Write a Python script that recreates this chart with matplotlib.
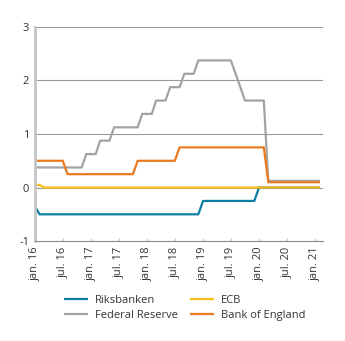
import numpy as np
import pandas as pd
import matplotlib
matplotlib.use("Agg")
import matplotlib.pyplot as plt
import matplotlib.dates as mdates

# monthly policy rates, jan 2016 - feb 2021
months = pd.date_range("2016-01-01", "2021-02-01", freq="MS")

riksbanken = ([-0.35] + [-0.5] * 35          # jan 16 - dec 18
              + [-0.25] * 12                 # jan 19 - dec 19
              + [0.0] * 14)                  # jan 20 - feb 21
fed = ([0.375] * 11 + [0.625] * 3 + [0.875] * 3 + [1.125] * 6
       + [1.375] * 3 + [1.625] * 3 + [1.875] * 3 + [2.125] * 3
       + [2.375] * 8 + [2.125, 1.875] + [1.625] * 5 + [0.125] * 12)
ecb = [0.05, 0.05] + [0.0] * 60
boe = ([0.5] * 7 + [0.25] * 15 + [0.5] * 9 + [0.75] * 19 + [0.1] * 12)

series = ["Riksbanken", "Federal Reserve", "ECB", "Bank of England"]
colors = ["#0e7ea6", "#a3a3a3", "#fbbd1c", "#ec7a1e"]

tick_dates = pd.date_range("2016-01-01", "2021-01-01", freq="6MS")
tick_labels = [("jan. " if d.month == 1 else "jul. ") + d.strftime("%y") for d in tick_dates]

plt.rcParams["font.family"] = ["Open Sans", "DejaVu Sans"]

fig = plt.figure(figsize=(3.45, 3.41), dpi=100)
ax = fig.add_axes([0.101, 0.293, 0.835, 0.628])

for vals, name, c in zip([riksbanken, fed, ecb, boe], series, colors):
    ax.plot(months, vals, color=c, lw=1.6, label=name, solid_capstyle="butt")

ax.set_ylim(-1, 3)
ax.set_yticks([-1, 0, 1, 2, 3])
ax.set_yticklabels(["-1", "0", "1", "2", "3"])
ax.set_xlim(pd.Timestamp("2016-01-01"), pd.Timestamp("2021-02-20"))
ax.set_xticks(tick_dates)
ax.set_xticklabels(tick_labels, rotation=90)

for y in [0, 1, 2, 3]:
    ax.axhline(y, color="#9a9a9a", lw=0.8, zorder=0)

for s in ["top", "right"]:
    ax.spines[s].set_visible(False)
ax.spines["left"].set_color("#c4c4c4")
ax.spines["left"].set_linewidth(2)
ax.spines["bottom"].set_color("#8a8a8a")
ax.spines["bottom"].set_linewidth(0.8)

ax.tick_params(axis="y", length=0, pad=4, labelsize=8, colors="#333333")
ax.tick_params(axis="x", direction="in", length=2, width=0.8, color="#c4c4c4",
               pad=4, labelsize=8, labelcolor="#333333")

ax.legend(loc="upper left", bbox_to_anchor=(0.065, -0.205), ncol=2, frameon=False,
          fontsize=8, handlelength=2.2, columnspacing=1.1, labelspacing=0.35,
          handletextpad=0.6, labelcolor="#333333")

fig.savefig("out.png", dpi=100)
